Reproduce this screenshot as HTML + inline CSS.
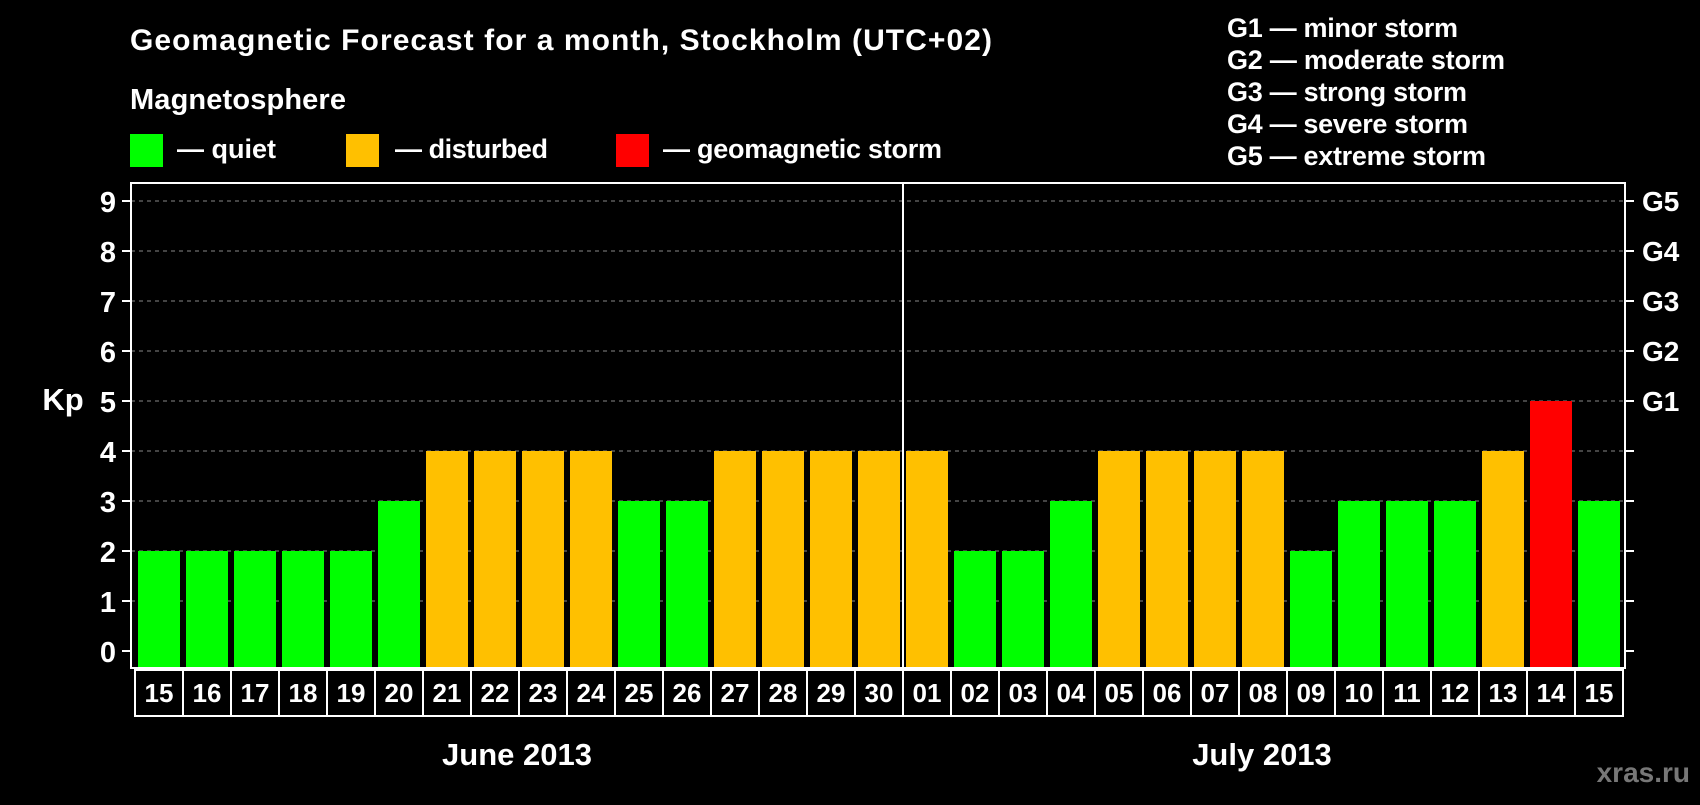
<!DOCTYPE html>
<html><head><meta charset="utf-8"><style>
body{margin:0;background:#000;width:1700px;height:800px;overflow:hidden}
svg text{font-family:"Liberation Sans",sans-serif;font-weight:bold;fill:#fff}
</style></head><body>
<svg id="c" width="1700" height="800" xmlns="http://www.w3.org/2000/svg">
<text x="130" y="50" font-size="30" textLength="862" lengthAdjust="spacing">Geomagnetic Forecast for a month, Stockholm (UTC+02)</text>
<text x="130" y="109" font-size="29" textLength="216" lengthAdjust="spacing">Magnetosphere</text>
<rect x="130" y="134" width="33" height="33" fill="#00ff00"/>
<text x="177" y="158" font-size="27" textLength="99" lengthAdjust="spacing">— quiet</text>
<rect x="346" y="134" width="33" height="33" fill="#ffc000"/>
<text x="395" y="158" font-size="27" textLength="153" lengthAdjust="spacing">— disturbed</text>
<rect x="616" y="134" width="33" height="33" fill="#ff0000"/>
<text x="663" y="158" font-size="27" textLength="279" lengthAdjust="spacing">— geomagnetic storm</text>
<g font-size="27">
<text x="1227" y="37" textLength="231" lengthAdjust="spacing">G1 — minor storm</text>
<text x="1227" y="69" textLength="278" lengthAdjust="spacing">G2 — moderate storm</text>
<text x="1227" y="101" textLength="240" lengthAdjust="spacing">G3 — strong storm</text>
<text x="1227" y="133" textLength="241" lengthAdjust="spacing">G4 — severe storm</text>
<text x="1227" y="165" textLength="259" lengthAdjust="spacing">G5 — extreme storm</text>
</g>
<text x="63" y="410" font-size="31" text-anchor="middle">Kp</text>
<text x="517" y="765" font-size="31" text-anchor="middle">June 2013</text>
<text x="1262" y="765" font-size="31" text-anchor="middle">July 2013</text>
<text x="1690" y="782" font-size="28" text-anchor="end" style="fill:#777">xras.ru</text>
<g id="plot"></g>
</svg>
<script>
const days=["15","16","17","18","19","20","21","22","23","24","25","26","27","28","29","30","01","02","03","04","05","06","07","08","09","10","11","12","13","14","15"];
const kp=[2,2,2,2,2,3,4,4,4,4,3,3,4,4,4,4,4,2,2,3,4,4,4,4,2,3,3,3,4,5,3];
const yTicks=[0,1,2,3,4,5,6,7,8,9];
const gLabels=["G1","G2","G3","G4","G5"];
const NS="http://www.w3.org/2000/svg";
const L=131,R=1625,T=183,B=668;
const y=v=>651-50*v;
const x=i=>135+48*i;
const g=document.getElementById('plot');
function mk(t,a){const e=document.createElementNS(NS,t);for(const k in a)e.setAttribute(k,a[k]);g.appendChild(e);return e;}
yTicks.forEach(v=>{
 if(v>0){const gl=mk('line',{x1:L,x2:R,y1:y(v),y2:y(v),stroke:'#888','stroke-dasharray':'4,4','stroke-width':1});
 
 }
 const t=mk('line',{x1:122,x2:L,y1:y(v),y2:y(v),stroke:'#fff','stroke-width':2});
 
 
 const t2=mk('line',{x1:R,x2:1634,y1:y(v),y2:y(v),stroke:'#fff','stroke-width':2});
 
 
 const tl=mk('text',{x:116,y:y(v)+11,'font-size':29,'text-anchor':'end'});tl.textContent=v;
 
 
 if(v>=5){const gt=mk('text',{x:1642,y:y(v)+10,'font-size':28});gt.textContent=gLabels[v-5];
 
 }
});
kp.forEach((v,i)=>{
 const c=v>=5?'#ff0000':v>=4?'#ffc000':'#00ff00';
 const b=mk('rect',{x:x(i)+3,y:y(v),width:42,height:B-y(v),fill:c});
 
 
 const bx=mk('rect',{x:x(i),y:670,width:48,height:46,fill:'none',stroke:'#fff','stroke-width':2});
 
 
 const dt=mk('text',{x:x(i)+24,y:702,'font-size':26,'text-anchor':'middle'});dt.textContent=days[i];
 
 
});
const fr=mk('rect',{x:L,y:T,width:R-L,height:B-T,fill:'none',stroke:'#fff','stroke-width':2});


const mi=days.indexOf("01");
const ml=mk('line',{x1:x(mi),x2:x(mi),y1:T,y2:B,stroke:'#fff','stroke-width':2});


</script>
</body></html>
